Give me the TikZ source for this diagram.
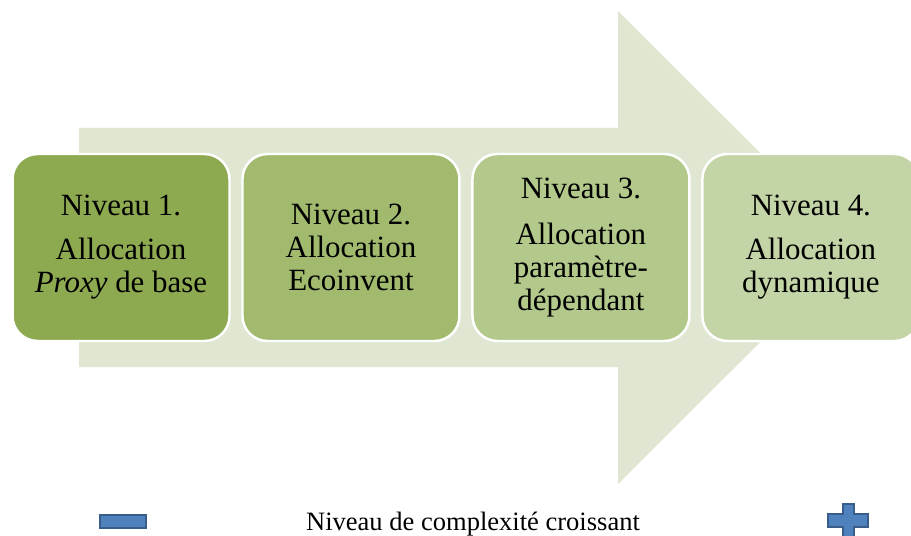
\documentclass[tikz,border=0pt]{standalone}
\usepackage{fontspec}
\setmainfont{Liberation Serif}
\usetikzlibrary{positioning}
\definecolor{arrowbg}{HTML}{DFE7D3}
\definecolor{lvlA}{HTML}{8EAA51}
\definecolor{lvlB}{HTML}{A1BA6E}
\definecolor{lvlC}{HTML}{B2C98B}
\definecolor{lvlD}{HTML}{C3D4A6}
\definecolor{signfill}{HTML}{4F81BD}
\definecolor{signdraw}{HTML}{385D8A}

\begin{document}
\begin{tikzpicture}[x=0.02cm, y=-0.02cm,
  levelbox/.style={draw=white, line width=1.4pt, rounded corners=0.5cm,
    minimum width=4.34cm, minimum height=3.74cm, align=center, inner sep=0pt,
    outer sep=0pt, font=\fontsize{17.6}{18.8}\selectfont},
  sign/.style={fill=signfill, draw=signdraw, line width=1.1pt}]
\useasboundingbox (0,0) rectangle (911,536);
\begin{scope}
\clip (0,0) rectangle (911,536);
% big arrow in the back
\fill[arrowbg] (79,128) -- (618,128) -- (618,11) -- (855,247.5)
  -- (618,484) -- (618,367) -- (79,367) -- cycle;
\node[levelbox, fill=lvlA] (lvl1) at (121,247.5)
  {Niveau 1.\\[0.22cm] Allocation\\ \textit{Proxy} de base};
\node[levelbox, fill=lvlB, right=0.26cm of lvl1] (lvl2)
  {Niveau 2.\\ Allocation\\ Ecoinvent};
\node[levelbox, fill=lvlC, right=0.26cm of lvl2] (lvl3)
  {Niveau 3.\\[0.26cm] Allocation\\ paramètre-\\ dépendant};
\node[levelbox, fill=lvlD, right=0.26cm of lvl3] (lvl4)
  {Niveau 4.\\[0.22cm] Allocation\\ dynamique};
% legend
\node[sign, rectangle, minimum width=0.92cm, minimum height=0.26cm, inner sep=0pt]
  (moins) at (123,521.5) {};
\node[font=\fontsize{15.1}{18}\selectfont, anchor=base] (legende) at (473,530)
  {Niveau de complexité croissant};
\draw[sign] (843,504) -- (854,504) -- (854,514) -- (868,514) -- (868,527)
  -- (854,527) -- (854,540) -- (843,540) -- (843,527) -- (828,527)
  -- (828,514) -- (843,514) -- cycle;
\end{scope}
\end{tikzpicture}
\end{document}
